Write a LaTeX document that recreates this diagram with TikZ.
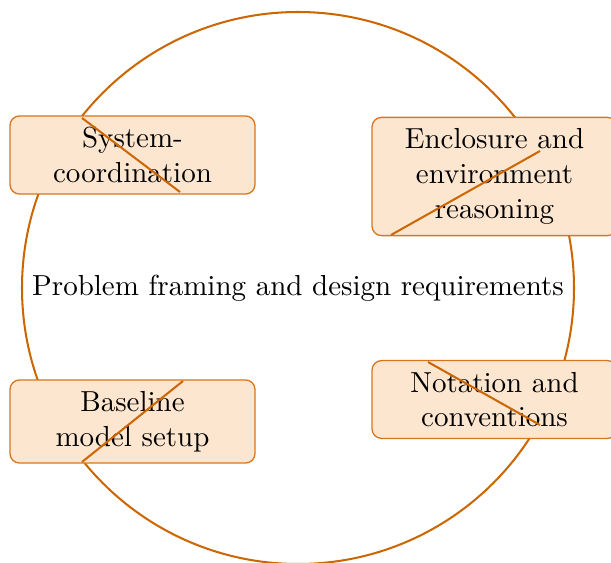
\documentclass[tikz,border=0pt]{standalone}
\definecolor{ringc}{RGB}{204,102,0}
\definecolor{boxfill}{RGB}{253,230,208}
\definecolor{boxline}{RGB}{214,118,30}
\begin{document}
\begin{tikzpicture}[x=0.345pt,y=-0.345pt,
  ring/.style={circle,draw=ringc,line width=0.7pt,minimum size=552*0.345pt,inner sep=0pt,font=\normalsize},
  topic/.style={rectangle,rounded corners=3.3pt,draw=boxline,line width=0.45pt,fill=boxfill,
    minimum width=245*0.345pt,align=center,inner xsep=3.33pt,inner ysep=3.9pt},
  spoke/.style={draw=ringc,line width=0.7pt}]
\useasboundingbox (0,0) rectangle (611,563);
\node[ring] (core) at (298,288) {Problem framing and design requirements};
\node[topic] (sys) at (132.5,155) {System-\\coordination};
\node[topic] (enc) at (494.5,176.5) {Enclosure and\\environment\\reasoning};
\node[topic] (base) at (132.5,421.5) {Baseline\\model setup};
\node[topic] (nota) at (494.5,399.5) {Notation and\\conventions};
\coordinate (s1) at (82,118);  \coordinate (s2) at (180,192);
\coordinate (e1) at (540,151); \coordinate (e2) at (391,235);
\coordinate (b1) at (82,462);  \coordinate (b2) at (183,381);
\coordinate (n1) at (540,425); \coordinate (n2) at (428,362);
\draw[spoke] (s1) -- (s2);
\draw[spoke] (e1) -- (e2);
\draw[spoke] (b1) -- (b2);
\draw[spoke] (n1) -- (n2);
\end{tikzpicture}
\end{document}
